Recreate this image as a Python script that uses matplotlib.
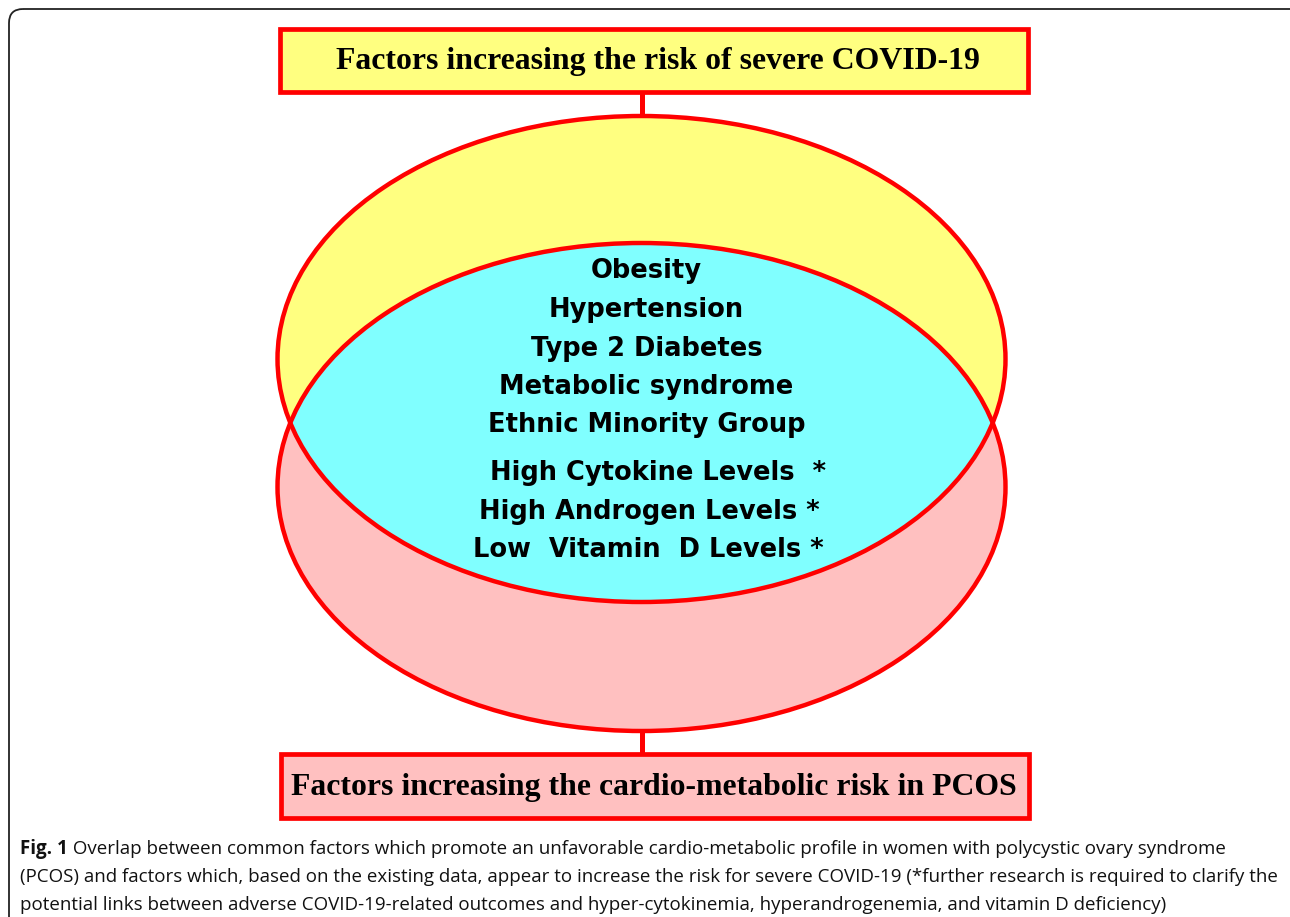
import matplotlib
matplotlib.use("Agg")
import matplotlib.pyplot as plt
from matplotlib.patches import Ellipse, Rectangle, FancyBboxPatch

# ---- content ----
top_label = "Factors increasing the risk of severe COVID-19"
bottom_label = "Factors increasing the cardio-metabolic risk in PCOS"
overlap_items = ["Obesity", "Hypertension", "Type 2 Diabetes",
                 "Metabolic syndrome", "Ethnic Minority Group"]
overlap_items_starred = ["High Cytokine Levels  *", "High Androgen Levels *",
                         "Low  Vitamin  D Levels *"]
caption_bold = "Fig. 1"
caption_lines = [
    " Overlap between common factors which promote an unfavorable cardio-metabolic profile in women with polycystic ovary syndrome",
    "(PCOS) and factors which, based on the existing data, appear to increase the risk for severe COVID-19 (*further research is required to clarify the",
    "potential links between adverse COVID-19-related outcomes and hyper-cytokinemia, hyperandrogenemia, and vitamin D deficiency)",
]

# ---- colours ----
RED = "#FF0000"
YELLOW = "#FFFF80"
PINK = "#FFC0C0"
CYAN = "#80FFFF"

W, H = 1290, 917
fig = plt.figure(figsize=(W / 100, H / 100), dpi=100)
ax = fig.add_axes([0, 0, 1, 1])
ax.set_xlim(0, W)
ax.set_ylim(H, 0)
ax.axis("off")

# outer frame
frame = FancyBboxPatch((9, 9), 1300, 960, boxstyle="round,pad=0,rounding_size=14",
                       fill=False, edgecolor="#222222", linewidth=1.3)
ax.add_patch(frame)

cx = 641.5
# ellipses
e_top = Ellipse((cx, 359), 728, 486, facecolor=YELLOW, edgecolor="none", zorder=1)
e_bot = Ellipse((cx, 487), 728, 488, facecolor=PINK, edgecolor="none", zorder=1)
ax.add_patch(e_top)
ax.add_patch(e_bot)
e_mid = Ellipse((cx, 487), 728, 488, facecolor=CYAN, edgecolor="none", zorder=2)
ax.add_patch(e_mid)
e_mid.set_clip_path(e_top)
for (cy, hh) in [(359, 486), (487, 488)]:
    ax.add_patch(Ellipse((cx, cy), 728, hh, facecolor="none", edgecolor=RED,
                         linewidth=3.2, zorder=3))

# connectors
ax.plot([642, 642], [92, 117], color=RED, linewidth=3.6, zorder=0.5, solid_capstyle="butt")
ax.plot([642, 642], [730, 754], color=RED, linewidth=3.6, zorder=0.5, solid_capstyle="butt")

# label boxes
ax.add_patch(Rectangle((280, 29), 748, 63, facecolor=YELLOW, edgecolor=RED, linewidth=3.4, zorder=4))
ax.add_patch(Rectangle((281, 754), 748, 64, facecolor=PINK, edgecolor=RED, linewidth=3.4, zorder=4))
serif = dict(family="Liberation Serif", weight="bold", color="black", ha="center",
             va="center", zorder=5)
ax.text(657.5, 61, top_label, fontsize=22.9, **serif)
ax.text(653.5, 787, bottom_label, fontsize=22.9, **serif)

# overlap texts
sans = dict(family="DejaVu Sans", weight="bold", color="black", ha="center",
            va="center", zorder=5, fontsize=18.5)
ys = [271, 310, 349, 387, 425]
for t, y in zip(overlap_items, ys):
    ax.text(cx + 5, y, t, **sans)
ys2 = [473, 512, 550]
xs2 = [658, 649, 648]
for t, x, y in zip(overlap_items_starred, xs2, ys2):
    ax.text(x, y, t, **sans)

# caption
cap = dict(family="Open Sans", fontsize=13.5, color="#111111", va="baseline", ha="left")
r = fig.canvas.get_renderer()
tb = ax.text(20, 854, caption_bold, weight="bold", **cap)
bb = tb.get_window_extent(r)
x_after = bb.x1
xd = ax.transData.inverted().transform((x_after, 0))[0]
ax.text(xd, 854, caption_lines[0], **cap)
ax.text(20, 882, caption_lines[1], **cap)
ax.text(20, 910, caption_lines[2], **cap)

fig.savefig("out.png", dpi=100)
